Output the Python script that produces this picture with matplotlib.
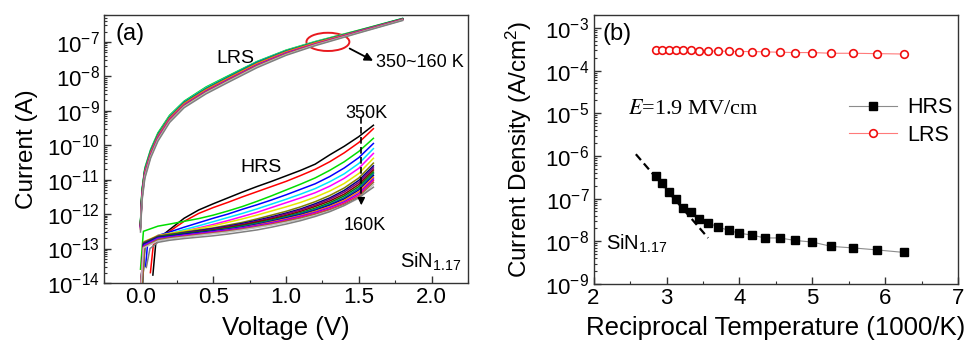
import matplotlib
matplotlib.use("Agg")
import matplotlib.pyplot as plt
import numpy as np
from matplotlib.patches import Ellipse
from matplotlib.ticker import FixedLocator, FuncFormatter, LogLocator, MultipleLocator, NullFormatter

plt.rcParams["font.family"] = ["Liberation Sans", "DejaVu Sans"]
plt.rcParams["mathtext.fontset"] = "custom"
plt.rcParams["mathtext.rm"] = "Liberation Sans"
plt.rcParams["mathtext.it"] = "Liberation Sans:italic"

# ---- panel (a): I-V curves, 350 K down to 160 K in 10 K steps ----
TEMPS = [350, 340, 330, 320, 310, 300, 290, 280, 270, 260,
         250, 240, 230, 220, 210, 200, 190, 180, 170, 160]
CURVE_COLORS = ["#000000", "#FF0000", "#00DD00", "#0000FF", "#00E5FF", "#FF00FF",
                "#E6E600", "#808000", "#000080", "#800080", "#800000", "#008000",
                "#008080", "#0000A0", "#FF8000", "#8000FF", "#FF0080", "#996633",
                "#C0C0C0", "#808080"]

LRS_V = [0.0, 0.01, 0.03, 0.07, 0.12, 0.2, 0.3, 0.45, 0.6, 0.8, 1.0, 1.2, 1.5, 1.8]
LRS_LOG_I = [
    [-12.28, -11.35, -10.72, -10.18, -9.70, -9.18, -8.77, -8.37, -8.05, -7.63, -7.29, -7.03, -6.68, -6.33],
    [-12.35, -11.45, -10.78, -10.23, -9.75, -9.22, -8.80, -8.40, -8.07, -7.64, -7.30, -7.04, -6.69, -6.34],
    [-12.22, -11.30, -10.66, -10.12, -9.64, -9.13, -8.72, -8.31, -7.99, -7.57, -7.24, -6.99, -6.66, -6.32],
    [-12.32, -11.44, -10.79, -10.24, -9.75, -9.23, -8.81, -8.41, -8.08, -7.65, -7.31, -7.05, -6.70, -6.34],
    [-12.25, -11.33, -10.69, -10.14, -9.67, -9.15, -8.74, -8.33, -8.01, -7.58, -7.25, -7.00, -6.67, -6.32],
    [-12.38, -11.48, -10.82, -10.26, -9.78, -9.25, -8.83, -8.43, -8.10, -7.67, -7.32, -7.06, -6.70, -6.35],
    [-12.27, -11.37, -10.72, -10.17, -9.69, -9.17, -8.76, -8.35, -8.03, -7.60, -7.26, -7.01, -6.67, -6.33],
    [-12.30, -11.40, -10.74, -10.19, -9.71, -9.19, -8.78, -8.38, -8.05, -7.62, -7.28, -7.02, -6.68, -6.33],
    [-12.36, -11.46, -10.80, -10.25, -9.77, -9.24, -8.82, -8.42, -8.09, -7.66, -7.31, -7.05, -6.70, -6.35],
    [-12.40, -11.50, -10.83, -10.27, -9.79, -9.26, -8.84, -8.44, -8.11, -7.68, -7.33, -7.07, -6.71, -6.35],
    [-12.33, -11.42, -10.77, -10.22, -9.74, -9.22, -8.80, -8.40, -8.07, -7.64, -7.30, -7.04, -6.69, -6.34],
    [-12.29, -11.38, -10.73, -10.18, -9.70, -9.19, -8.77, -8.37, -8.04, -7.61, -7.27, -7.02, -6.68, -6.33],
    [-12.26, -11.35, -10.70, -10.16, -9.68, -9.17, -8.75, -8.35, -8.02, -7.59, -7.26, -7.01, -6.67, -6.33],
    [-12.34, -11.44, -10.78, -10.23, -9.75, -9.23, -8.81, -8.41, -8.08, -7.65, -7.31, -7.05, -6.70, -6.34],
    [-12.31, -11.41, -10.76, -10.21, -9.73, -9.21, -8.79, -8.39, -8.06, -7.63, -7.29, -7.03, -6.69, -6.34],
    [-12.38, -11.47, -10.81, -10.26, -9.77, -9.25, -8.83, -8.43, -8.10, -7.67, -7.32, -7.06, -6.70, -6.35],
    [-12.42, -11.52, -10.85, -10.29, -9.80, -9.27, -8.85, -8.45, -8.12, -7.69, -7.34, -7.07, -6.71, -6.36],
    [-12.44, -11.55, -10.88, -10.31, -9.82, -9.29, -8.86, -8.46, -8.13, -7.70, -7.35, -7.08, -6.72, -6.36],
    [-12.47, -11.58, -10.91, -10.33, -9.84, -9.31, -8.88, -8.48, -8.15, -7.72, -7.37, -7.09, -6.73, -6.37],
    [-12.52, -11.63, -10.96, -10.37, -9.88, -9.34, -8.91, -8.51, -8.18, -7.75, -7.39, -7.11, -6.74, -6.38],
]

HRS_START_V = [0.085, 0.068, 0.0, 0.035, 0.008, 0.0, 0.005, 0.0, 0.01, 0.0,
               0.005, 0.0, 0.01, 0.0, 0.0, 0.005, 0.0, 0.01, 0.0, 0.04]
HRS_START_LOG = [-13.77, -13.70, -13.60, -13.52, -14.3, -14.3, -14.3, -14.3, -14.3, -14.3,
                 -14.3, -14.3, -14.3, -14.3, -14.3, -14.3, -14.3, -14.3, -14.3, -13.55]
HRS_KNEE_V = [0.105, 0.088, 0.02, 0.05, 0.025, 0.02, 0.025, 0.02, 0.03, 0.02,
              0.025, 0.02, 0.03, 0.02, 0.02, 0.025, 0.02, 0.03, 0.02, 0.065]
HRS_KNEE_LOG = [-12.84, -12.90, -12.50, -12.80, -12.80, -12.85, -12.80, -12.82, -12.88, -12.84,
                -12.90, -12.86, -12.92, -12.88, -12.95, -12.90, -12.96, -12.94, -12.98, -13.00]
HRS_V = [0.12, 0.2, 0.3, 0.4, 0.5, 0.6, 0.7, 0.8, 0.9, 1.0, 1.1, 1.2, 1.3, 1.4, 1.5, 1.6]
HRS_LOG_I = [
    [-12.72, -12.45, -12.12, -11.88, -11.70, -11.53, -11.36, -11.20, -11.05, -10.89, -10.73, -10.55, -10.28, -10.03, -9.75, -9.42],
    [-12.74, -12.50, -12.21, -11.98, -11.81, -11.66, -11.50, -11.35, -11.20, -11.05, -10.88, -10.70, -10.48, -10.22, -9.92, -9.52],
    [-12.35, -12.29, -12.21, -12.13, -12.03, -11.91, -11.78, -11.63, -11.47, -11.30, -11.13, -10.95, -10.73, -10.48, -10.18, -9.80],
    [-12.62, -12.52, -12.38, -12.25, -12.12, -12.00, -11.86, -11.73, -11.59, -11.44, -11.28, -11.12, -10.91, -10.66, -10.36, -9.95],
    [-12.66, -12.57, -12.45, -12.34, -12.22, -12.10, -11.98, -11.85, -11.71, -11.57, -11.42, -11.26, -11.06, -10.83, -10.53, -10.10],
    [-12.68, -12.60, -12.50, -12.40, -12.30, -12.19, -12.07, -11.95, -11.81, -11.67, -11.53, -11.38, -11.19, -10.96, -10.67, -10.24],
    [-12.62, -12.56, -12.49, -12.42, -12.34, -12.24, -12.14, -12.03, -11.91, -11.79, -11.66, -11.51, -11.33, -11.11, -10.82, -10.38],
    [-12.64, -12.58, -12.52, -12.46, -12.40, -12.32, -12.24, -12.14, -12.03, -11.92, -11.79, -11.64, -11.46, -11.24, -10.95, -10.52],
    [-12.68, -12.61, -12.54, -12.48, -12.42, -12.35, -12.27, -12.18, -12.08, -11.97, -11.85, -11.70, -11.53, -11.31, -11.02, -10.60],
    [-12.64, -12.60, -12.55, -12.50, -12.44, -12.37, -12.30, -12.21, -12.11, -12.00, -11.88, -11.74, -11.57, -11.36, -11.08, -10.66],
    [-12.70, -12.63, -12.57, -12.51, -12.46, -12.39, -12.32, -12.23, -12.14, -12.04, -11.92, -11.78, -11.62, -11.42, -11.14, -10.72],
    [-12.66, -12.61, -12.56, -12.52, -12.47, -12.41, -12.34, -12.26, -12.17, -12.07, -11.96, -11.83, -11.67, -11.47, -11.20, -10.78],
    [-12.72, -12.66, -12.60, -12.54, -12.49, -12.43, -12.36, -12.28, -12.19, -12.09, -11.98, -11.86, -11.71, -11.52, -11.25, -10.83],
    [-12.68, -12.64, -12.58, -12.54, -12.49, -12.44, -12.38, -12.30, -12.21, -12.11, -12.01, -11.89, -11.74, -11.56, -11.30, -10.88],
    [-12.74, -12.68, -12.62, -12.57, -12.52, -12.46, -12.40, -12.32, -12.23, -12.14, -12.04, -11.92, -11.78, -11.60, -11.35, -10.93],
    [-12.70, -12.66, -12.61, -12.56, -12.51, -12.46, -12.40, -12.33, -12.25, -12.16, -12.06, -11.95, -11.81, -11.64, -11.40, -10.98],
    [-12.76, -12.70, -12.64, -12.59, -12.54, -12.49, -12.43, -12.36, -12.28, -12.19, -12.09, -11.98, -11.85, -11.68, -11.45, -11.03],
    [-12.74, -12.69, -12.65, -12.60, -12.55, -12.50, -12.44, -12.37, -12.30, -12.21, -12.12, -12.01, -11.88, -11.72, -11.50, -11.08],
    [-12.78, -12.72, -12.67, -12.62, -12.57, -12.52, -12.46, -12.39, -12.32, -12.24, -12.15, -12.04, -11.91, -11.75, -11.54, -11.14],
    [-12.82, -12.76, -12.71, -12.67, -12.63, -12.58, -12.52, -12.46, -12.38, -12.29, -12.19, -12.07, -11.93, -11.75, -11.52, -11.22],
]

# ---- panel (b): Arrhenius plot at E = 1.9 MV/cm ----
INV_T = [2.86, 2.94, 3.03, 3.13, 3.23, 3.33, 3.45, 3.57, 3.70, 3.85,
         4.00, 4.17, 4.35, 4.55, 4.76, 5.00, 5.26, 5.56, 5.88, 6.25]
J_HRS = [3.4e-7, 2.3e-7, 1.4e-7, 1.0e-7, 6.1e-8, 4.8e-8, 3.4e-8, 2.7e-8, 2.2e-8, 1.8e-8,
         1.55e-8, 1.4e-8, 1.2e-8, 1.2e-8, 1.05e-8, 9.6e-9, 7.6e-9, 7.0e-9, 6.3e-9, 5.5e-9]
J_LRS = [3.1e-4, 3.1e-4, 3.1e-4, 3.05e-4, 3.05e-4, 3.0e-4, 2.9e-4, 2.9e-4, 2.85e-4, 2.85e-4,
         2.8e-4, 2.8e-4, 2.75e-4, 2.7e-4, 2.65e-4, 2.65e-4, 2.55e-4, 2.55e-4, 2.5e-4, 2.45e-4]
FIT_X = [2.58, 3.57]
FIT_J = [1.1e-6, 1.2e-8]

FRAME = "#333333"


def _style_log_axes(ax, decades):
    ax.set_yscale("log")
    ax.yaxis.set_major_locator(FixedLocator([10.0 ** d for d in decades]))
    ax.yaxis.set_major_formatter(FuncFormatter(lambda v, p: "$10^{%d}$" % int(round(np.log10(v)))))
    ax.yaxis.set_minor_locator(LogLocator(base=10, subs=np.arange(2, 10), numticks=50))
    ax.yaxis.set_minor_formatter(NullFormatter())
    ax.tick_params(which="both", direction="in", top=False, right=False, colors=FRAME,
                   labelcolor="black", labelsize=16)
    ax.tick_params(which="major", length=5, width=1.0, pad=3)
    ax.tick_params(which="minor", length=2.5, width=0.8)
    for sp in ax.spines.values():
        sp.set_color(FRAME)
        sp.set_linewidth(1.0)


fig = plt.figure(figsize=(9.73, 3.43), dpi=100, facecolor="white")
ax_a = fig.add_axes([0.107, 0.175, 0.374, 0.781])
ax_b = fig.add_axes([0.610, 0.172, 0.375, 0.784])

# panel (a)
for i, color in enumerate(CURVE_COLORS):
    ax_a.plot(LRS_V, 10.0 ** np.array(LRS_LOG_I[i]), color=color, lw=1.1)
for i, color in enumerate(CURVE_COLORS):
    v = [HRS_START_V[i], HRS_KNEE_V[i]] + HRS_V
    logi = [HRS_START_LOG[i], HRS_KNEE_LOG[i]] + HRS_LOG_I[i]
    ax_a.plot(v, 10.0 ** np.array(logi), color=color, lw=1.1)

_style_log_axes(ax_a, range(-14, -6))
ax_a.set_xlim(-0.25, 2.25)
ax_a.set_ylim(1e-14, 6e-7)
ax_a.xaxis.set_major_locator(MultipleLocator(0.5))
ax_a.xaxis.set_minor_locator(MultipleLocator(0.25))
ax_a.xaxis.set_major_formatter(FuncFormatter(lambda v, p: f"{v:.1f}"))
ax_a.set_xlabel("Voltage (V)", fontsize=18.5)
ax_a.set_ylabel("Current (A)", fontsize=17.5)
ax_a.xaxis.set_label_coords(0.5, -0.122)
ax_a.yaxis.set_label_coords(-0.181, 0.5)

ax_a.text(0.03, 0.93, "(a)", transform=ax_a.transAxes, fontsize=17, va="center")
ax_a.text(0.65, 3.2e-8, "LRS", fontsize=14, ha="center", va="center")
ax_a.text(0.83, 2.2e-11, "HRS", fontsize=14, ha="center", va="center")
ax_a.text(1.55, 8.5e-10, "350K", fontsize=13, ha="center", va="center")
ax_a.text(1.54, 4.8e-13, "160K", fontsize=13, ha="center", va="center")
ax_a.plot([1.517, 1.517], [6.5e-10, 3.5e-12], color="black", lw=1.2, ls=(0, (4, 2)))
ax_a.annotate("", xy=(1.517, 1.5e-12), xytext=(1.517, 3.6e-12),
              arrowprops=dict(arrowstyle="-|>", color="black", lw=1.0, mutation_scale=11))
ax_a.add_patch(Ellipse((0.615, 0.90), 0.118, 0.068, transform=ax_a.transAxes,
                       fill=False, edgecolor="#E8191E", lw=1.4))
ax_a.annotate("", xy=(1.615, 2.6e-8), xytext=(1.42, 7.0e-8),
              arrowprops=dict(arrowstyle="-|>", color="black", lw=1.3, mutation_scale=12))
ax_a.text(1.62, 2.6e-8, "350~160 K", fontsize=13, va="center", ha="left")
ax_a.text(1.78, 4.0e-14, "SiN$_{1.17}$", fontsize=14.5, va="center", ha="left")

# panel (b)
ax_b.plot(INV_T, J_HRS, color="#8C8C8C", lw=0.8, marker="s", ms=6,
          mfc="black", mec="black", label="HRS")
ax_b.plot(INV_T, J_LRS, color="#FF7A7A", lw=0.8, marker="o", ms=5.5,
          mfc="white", mec="#F01010", mew=1.2, label="LRS")
ax_b.plot(FIT_X, FIT_J, color="black", lw=1.6, ls=(0, (3.5, 2)))

_style_log_axes(ax_b, range(-9, -2))
ax_b.set_xlim(2, 7)
ax_b.set_ylim(1e-9, 2e-3)
ax_b.xaxis.set_major_locator(MultipleLocator(1))
ax_b.xaxis.set_minor_locator(MultipleLocator(0.5))
ax_b.set_xlabel("Reciprocal Temperature (1000/K)", fontsize=18.5)
ax_b.set_ylabel("Current Density (A/cm$^2$)", fontsize=17.5)
ax_b.xaxis.set_label_coords(0.5, -0.118)
ax_b.yaxis.set_label_coords(-0.162, 0.5)

ax_b.text(0.025, 0.93, "(b)", transform=ax_b.transAxes, fontsize=17, va="center")
ax_b.text(2.47, 1.2e-5, "$E$=1.9 MV/cm", fontsize=16, va="center", ha="left",
          family=["Liberation Serif", "DejaVu Serif"], math_fontfamily="stix")
ax_b.text(2.17, 8.5e-9, "SiN$_{1.17}$", fontsize=14.5, va="center", ha="left")
ax_b.legend(loc="upper left", bbox_to_anchor=(0.66, 0.75), frameon=False, fontsize=15.5,
            handlelength=2.2, handletextpad=0.5, labelspacing=0.3, borderpad=0.2)

fig.savefig("out.png", dpi=100, facecolor="white")
